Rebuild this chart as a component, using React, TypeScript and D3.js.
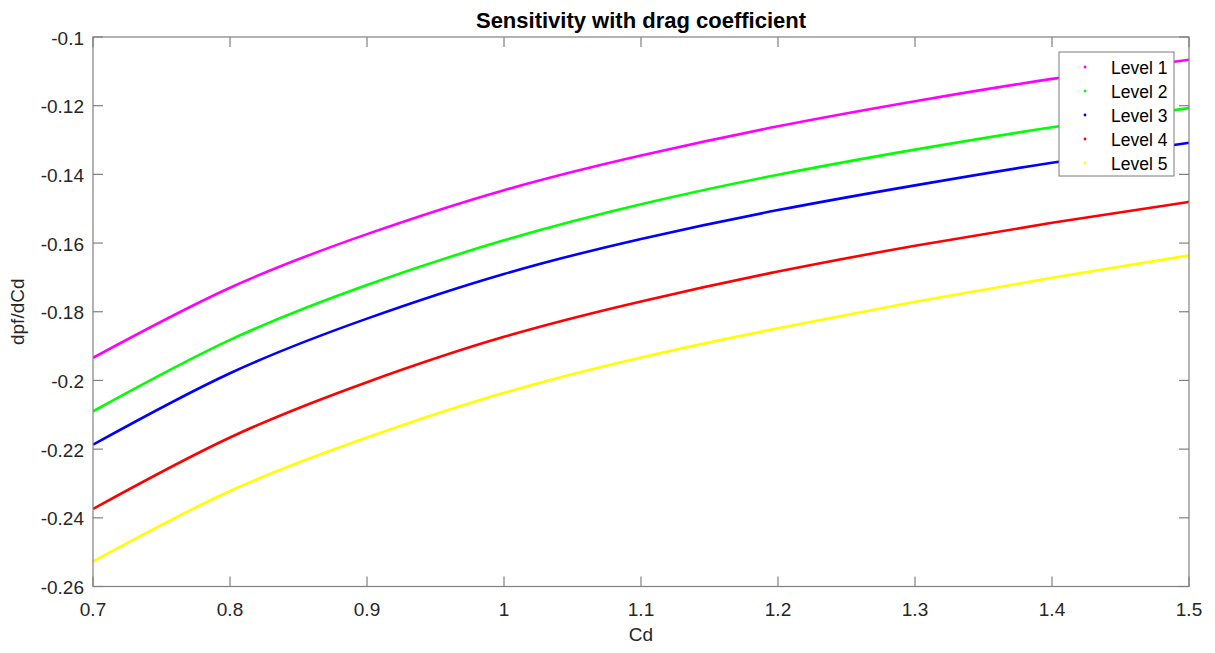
import React from "react";
import * as d3 from "d3";

const cd = [0.7, 0.8, 0.9, 1.0, 1.1, 1.2, 1.3, 1.4, 1.5];
const level1 = [-0.1934, -0.1730, -0.1574, -0.1446, -0.1345, -0.1260, -0.1187, -0.1122, -0.1066];
const level2 = [-0.2090, -0.1882, -0.1722, -0.1592, -0.1487, -0.1401, -0.1328, -0.1263, -0.1207];
const level3 = [-0.2187, -0.1979, -0.1820, -0.1690, -0.1588, -0.1504, -0.1432, -0.1366, -0.1308];
const level4 = [-0.2374, -0.2166, -0.2005, -0.1873, -0.1770, -0.1683, -0.1608, -0.1541, -0.1480];
const level5 = [-0.2527, -0.2322, -0.2166, -0.2036, -0.1933, -0.1848, -0.1771, -0.1701, -0.1636];
const seriesNames = ["Level 1", "Level 2", "Level 3", "Level 4", "Level 5"];
const seriesColors = ["#ff00ff", "#00ff00", "#0000ff", "#ff0000", "#ffff00"];
const xTicks = [0.7, 0.8, 0.9, 1, 1.1, 1.2, 1.3, 1.4, 1.5];
const yTicks = [-0.26, -0.24, -0.22, -0.2, -0.18, -0.16, -0.14, -0.12, -0.1];

const W = 1215;
const H = 653;
const L = 93, R = 1189, T = 37, B = 586.5;
const FONT = "'Liberation Sans', Arial, sans-serif";
const AXIS = "#808080";
const TEXT = "#262626";

export default function App() {
  const x = d3.scaleLinear().domain([0.7, 1.5]).range([L, R]);
  const y = d3.scaleLinear().domain([-0.26, -0.1]).range([B, T]);
  const all = [level1, level2, level3, level4, level5];
  const line = d3
    .line<number>()
    .x((_, i) => x(cd[i]))
    .y((d) => y(d))
    .curve(d3.curveNatural);
  const fmt = (v: number) => String(+v.toFixed(2));
  const tl = 10;
  return (
    <svg width={W} height={H} style={{ position: "absolute", left: 0, top: 0, background: "#fff" }} fontFamily={FONT}>
      <rect x={0} y={0} width={W} height={H} fill="#fff" />
      <defs>
        <clipPath id="plot">
          <rect x={L} y={T} width={R - L} height={B - T} />
        </clipPath>
      </defs>
      <g clipPath="url(#plot)">
        {all.map((s, i) => (
          <path key={i} d={line(s) || ""} fill="none" stroke={seriesColors[i]} strokeWidth={2.6} />
        ))}
      </g>
      <rect x={L} y={T} width={R - L} height={B - T} fill="none" stroke={AXIS} strokeWidth={1.2} />
      {xTicks.map((t) => (
        <g key={"x" + t}>
          <line x1={x(t)} x2={x(t)} y1={B} y2={B - tl} stroke={AXIS} strokeWidth={1.2} />
          <line x1={x(t)} x2={x(t)} y1={T} y2={T + tl} stroke={AXIS} strokeWidth={1.2} />
          <text x={x(t)} y={B + 29} textAnchor="middle" fontSize={19} fill={TEXT}>
            {fmt(t)}
          </text>
        </g>
      ))}
      {yTicks.map((t) => (
        <g key={"y" + t}>
          <line x1={L} x2={L + tl} y1={y(t)} y2={y(t)} stroke={AXIS} strokeWidth={1.2} />
          <line x1={R} x2={R - tl} y1={y(t)} y2={y(t)} stroke={AXIS} strokeWidth={1.2} />
          <text x={L - 9} y={y(t) + 7.5} textAnchor="end" fontSize={19} fill={TEXT}>
            {fmt(t)}
          </text>
        </g>
      ))}
      <text x={(L + R) / 2} y={28} textAnchor="middle" fontSize={22} fontWeight="bold" fill="#000">
        Sensitivity with drag coefficient
      </text>
      <text x={(L + R) / 2} y={641} textAnchor="middle" fontSize={19} fill={TEXT}>
        Cd
      </text>
      <text transform={`translate(24, ${(T + B) / 2}) rotate(-90)`} textAnchor="middle" fontSize={19} fill={TEXT}>
        dpf/dCd
      </text>
      <rect x={1059} y={52} width={115} height={124} fill="#fff" stroke="#7a7a7a" strokeWidth={1} />
      {seriesNames.map((n, i) => (
        <g key={n}>
          <circle cx={1085} cy={67 + i * 24} r={1.4} fill={seriesColors[i]} />
          <text x={1111} y={67 + i * 24 + 6.5} fontSize={17.5} fill="#000">
            {n}
          </text>
        </g>
      ))}
    </svg>
  );
}
